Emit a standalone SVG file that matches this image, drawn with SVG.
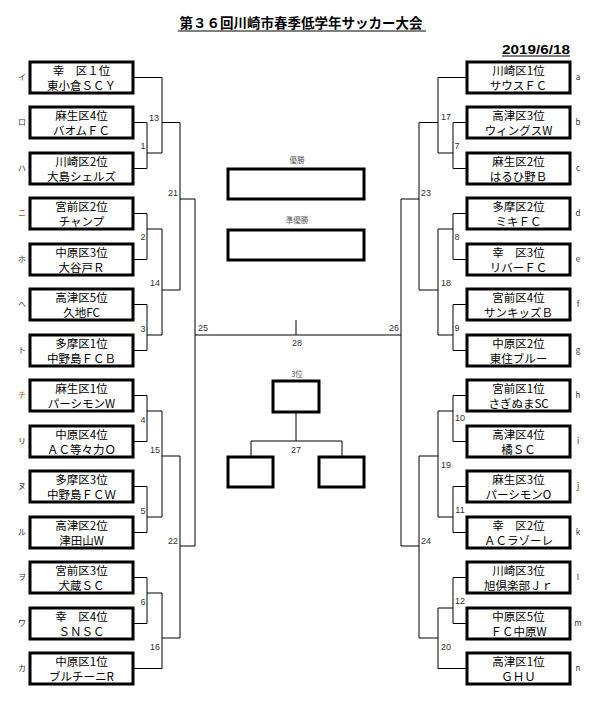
<svg xmlns="http://www.w3.org/2000/svg" width="599" height="724" viewBox="0 0 599 724">
<style>
.bx{fill:#fff;stroke:#000;stroke-width:3}
.t{font-family:"Noto Sans CJK JP","Liberation Sans",sans-serif;font-size:11.5px;text-anchor:middle;fill:#000}
.n{font-family:"Liberation Sans","Noto Sans CJK JP",sans-serif;font-size:9px;text-anchor:middle;fill:#333}
.k{font-family:"Noto Sans CJK JP",sans-serif;font-size:8px;text-anchor:middle;fill:#333}
.s{font-family:"Noto Sans CJK JP",sans-serif;font-size:7.5px;text-anchor:middle;fill:#555}
.c{fill:none;stroke:#000;stroke-width:1}
</style>
<rect width="599" height="724" fill="#fff"/>
<g id="title">
<text x="301" y="28" style="font-family:'Noto Sans CJK JP',sans-serif;font-size:13.5px;font-weight:bold;text-anchor:middle">第３６回川崎市春季低学年サッカー大会</text>
<line x1="178" y1="31" x2="426" y2="31" stroke="#000" stroke-width="1"/>
<text x="502" y="53.5" textLength="68" lengthAdjust="spacingAndGlyphs" style="font-family:'Liberation Sans',sans-serif;font-size:12.5px;font-weight:bold">2019/6/18</text>
<line x1="502" y1="56" x2="570" y2="56" stroke="#000" stroke-width="1"/>
</g>
<g id="connectors" class="c">
<path d="M133,77.5H162V153M133,122.5H147V168.5H133M147,153H162M162,122.5H180V290"/>
<path d="M133,213.5H147V259.5H133M147,229H162V335M133,304.5H147V350.5H133M147,335H162M162,290H180"/>
<path d="M180,199H195V546"/>
<path d="M133,395.5H147V441.5H133M147,411H162V517M133,486.5H147V532.5H133M147,517H162M162,456H180V638"/>
<path d="M133,577.5H147V623.5H133M147,593H162V668.5H133M162,638H180M180,546H195"/>
<path d="M195,335H401M296,320V335"/>
<path d="M467,77.5H438V153M467,122.5H453V168.5H467M453,153H438M438,122.5H419V290"/>
<path d="M467,213.5H453V259.5H467M453,229H438V335M467,304.5H453V350.5H467M453,335H438M438,290H419"/>
<path d="M419,199H401V546"/>
<path d="M467,395.5H453V441.5H467M453,411H438V517M467,486.5H453V532.5H467M453,517H438M438,456H419V638"/>
<path d="M467,577.5H453V623.5H467M453,608H438V668.5H467M438,638H419M419,546H401"/>
<path d="M296,412V441M251,441H342M251,441V457M342,441V457"/>
</g>
<g id="match-labels">
<text class="n" x="154" y="121">13</text><text class="n" x="143" y="149">1</text><text class="n" x="173" y="196">21</text>
<text class="n" x="143" y="240">2</text><text class="n" x="155" y="286">14</text><text class="n" x="143" y="332">3</text>
<text class="n" x="143" y="423">4</text><text class="n" x="155" y="453">15</text><text class="n" x="143" y="514">5</text>
<text class="n" x="143" y="605">6</text><text class="n" x="155" y="650">16</text><text class="n" x="173" y="544">22</text>
<text class="n" x="203" y="331">25</text><text class="n" x="297" y="346">28</text><text class="n" x="394" y="331">26</text>
<text class="n" x="446" y="120">17</text><text class="n" x="457" y="149">7</text><text class="n" x="426" y="196">23</text>
<text class="n" x="457" y="240">8</text><text class="n" x="446" y="286">18</text><text class="n" x="457" y="331">9</text>
<text class="n" x="460" y="421">10</text><text class="n" x="446" y="468">19</text><text class="n" x="460" y="513">11</text>
<text class="n" x="460" y="604">12</text><text class="n" x="446" y="650">20</text><text class="n" x="426" y="544">24</text>
<text class="n" x="296" y="453">27</text>
</g>
<g id="final"><text class="s" x="297" y="163">優勝</text><rect class="bx" x="228" y="169" width="136" height="30"/></g>
<g id="runner-up"><text class="s" x="297" y="223">準優勝</text><rect class="bx" x="228" y="230" width="136" height="30"/></g>
<g id="third"><text class="s" x="297" y="377">3位</text><rect class="bx" x="273" y="381" width="46" height="31"/></g>
<g id="third-a"><rect class="bx" x="228" y="457" width="45" height="30"/></g>
<g id="third-b"><rect class="bx" x="319" y="457" width="45" height="30"/></g>
<g id="L1"><text class="k" x="22" y="80">イ</text><rect class="bx" x="30" y="62" width="103" height="31"/><text class="t" x="81.5" y="75">幸　区１位</text><text class="t" x="81.5" y="90">東小倉ＳＣＹ</text></g>
<g id="L2"><text class="k" x="22" y="125">ロ</text><rect class="bx" x="30" y="107" width="103" height="31"/><text class="t" x="81.5" y="120">麻生区4位</text><text class="t" x="81.5" y="135">バオムＦＣ</text></g>
<g id="L3"><text class="k" x="22" y="171">ハ</text><rect class="bx" x="30" y="153" width="103" height="31"/><text class="t" x="81.5" y="166">川崎区2位</text><text class="t" x="81.5" y="181">大島シェルズ</text></g>
<g id="L4"><text class="k" x="22" y="216" style="fill:#c05a00">ニ</text><rect class="bx" x="30" y="198" width="103" height="31"/><text class="t" x="81.5" y="211">宮前区2位</text><text class="t" x="81.5" y="226">チャンプ</text></g>
<g id="L5"><text class="k" x="22" y="262">ホ</text><rect class="bx" x="30" y="244" width="103" height="31"/><text class="t" x="81.5" y="257">中原区3位</text><text class="t" x="81.5" y="272">大谷戸Ｒ</text></g>
<g id="L6"><text class="k" x="22" y="307">ヘ</text><rect class="bx" x="30" y="289" width="103" height="31"/><text class="t" x="81.5" y="302">高津区5位</text><text class="t" x="81.5" y="317">久地FC</text></g>
<g id="L7"><text class="k" x="22" y="353">ト</text><rect class="bx" x="30" y="335" width="103" height="31"/><text class="t" x="81.5" y="348">多摩区1位</text><text class="t" x="81.5" y="363">中野島ＦＣＢ</text></g>
<g id="L8"><text class="k" x="22" y="398" style="fill:#c05a00">チ</text><rect class="bx" x="30" y="380" width="103" height="31"/><text class="t" x="81.5" y="393">麻生区1位</text><text class="t" x="81.5" y="408">パーシモンW</text></g>
<g id="L9"><text class="k" x="22" y="444">リ</text><rect class="bx" x="30" y="426" width="103" height="31"/><text class="t" x="81.5" y="439">中原区4位</text><text class="t" x="81.5" y="454">ＡＣ等々力Ｏ</text></g>
<g id="L10"><text class="k" x="22" y="489">ヌ</text><rect class="bx" x="30" y="471" width="103" height="31"/><text class="t" x="81.5" y="484">多摩区3位</text><text class="t" x="81.5" y="499">中野島ＦＣＷ</text></g>
<g id="L11"><text class="k" x="22" y="535">ル</text><rect class="bx" x="30" y="517" width="103" height="31"/><text class="t" x="81.5" y="530">高津区2位</text><text class="t" x="81.5" y="545">津田山W</text></g>
<g id="L12"><text class="k" x="22" y="580">ヲ</text><rect class="bx" x="30" y="562" width="103" height="31"/><text class="t" x="81.5" y="575">宮前区3位</text><text class="t" x="81.5" y="590">犬蔵ＳＣ</text></g>
<g id="L13"><text class="k" x="22" y="626">ワ</text><rect class="bx" x="30" y="608" width="103" height="31"/><text class="t" x="81.5" y="621">幸　区4位</text><text class="t" x="81.5" y="636">ＳＮＳＣ</text></g>
<g id="L14"><text class="k" x="22" y="671">カ</text><rect class="bx" x="30" y="653" width="103" height="31"/><text class="t" x="81.5" y="666">中原区1位</text><text class="t" x="81.5" y="681">ブルチーニR</text></g>
<g id="Ra"><text class="k" x="578" y="80">a</text><rect class="bx" x="467" y="62" width="103" height="31"/><text class="t" x="518.5" y="75">川崎区1位</text><text class="t" x="518.5" y="90">サウスＦＣ</text></g>
<g id="Rb"><text class="k" x="578" y="125">b</text><rect class="bx" x="467" y="107" width="103" height="31"/><text class="t" x="518.5" y="120">高津区3位</text><text class="t" x="518.5" y="135">ウィングスW</text></g>
<g id="Rc"><text class="k" x="578" y="171">c</text><rect class="bx" x="467" y="153" width="103" height="31"/><text class="t" x="518.5" y="166">麻生区2位</text><text class="t" x="518.5" y="181">はるひ野Ｂ</text></g>
<g id="Rd"><text class="k" x="578" y="216">d</text><rect class="bx" x="467" y="198" width="103" height="31"/><text class="t" x="518.5" y="211">多摩区2位</text><text class="t" x="518.5" y="226">ミキＦＣ</text></g>
<g id="Re"><text class="k" x="578" y="262">e</text><rect class="bx" x="467" y="244" width="103" height="31"/><text class="t" x="518.5" y="257">幸　区3位</text><text class="t" x="518.5" y="272">リバーＦＣ</text></g>
<g id="Rf"><text class="k" x="578" y="307">f</text><rect class="bx" x="467" y="289" width="103" height="31"/><text class="t" x="518.5" y="302">宮前区4位</text><text class="t" x="518.5" y="317">サンキッズＢ</text></g>
<g id="Rg"><text class="k" x="578" y="353">g</text><rect class="bx" x="467" y="335" width="103" height="31"/><text class="t" x="518.5" y="348">中原区2位</text><text class="t" x="518.5" y="363">東住ブルー</text></g>
<g id="Rh"><text class="k" x="578" y="398">h</text><rect class="bx" x="467" y="380" width="103" height="31"/><text class="t" x="518.5" y="393">宮前区1位</text><text class="t" x="518.5" y="408">さぎぬまSC</text></g>
<g id="Ri"><text class="k" x="578" y="444">i</text><rect class="bx" x="467" y="426" width="103" height="31"/><text class="t" x="518.5" y="439">高津区4位</text><text class="t" x="518.5" y="454">橘ＳＣ</text></g>
<g id="Rj"><text class="k" x="578" y="489">j</text><rect class="bx" x="467" y="471" width="103" height="31"/><text class="t" x="518.5" y="484">麻生区3位</text><text class="t" x="518.5" y="499">パーシモンO</text></g>
<g id="Rk"><text class="k" x="578" y="535">k</text><rect class="bx" x="467" y="517" width="103" height="31"/><text class="t" x="518.5" y="530">幸　区2位</text><text class="t" x="518.5" y="545">ＡＣラゾーレ</text></g>
<g id="Rl"><text class="k" x="578" y="580">l</text><rect class="bx" x="467" y="562" width="103" height="31"/><text class="t" x="518.5" y="575">川崎区3位</text><text class="t" x="518.5" y="590">旭倶楽部Ｊｒ</text></g>
<g id="Rm"><text class="k" x="578" y="626">m</text><rect class="bx" x="467" y="608" width="103" height="31"/><text class="t" x="518.5" y="621">中原区5位</text><text class="t" x="518.5" y="636">ＦＣ中原W</text></g>
<g id="Rn"><text class="k" x="578" y="671">n</text><rect class="bx" x="467" y="653" width="103" height="31"/><text class="t" x="518.5" y="666">高津区1位</text><text class="t" x="518.5" y="681">ＧＨＵ</text></g>
</svg>
